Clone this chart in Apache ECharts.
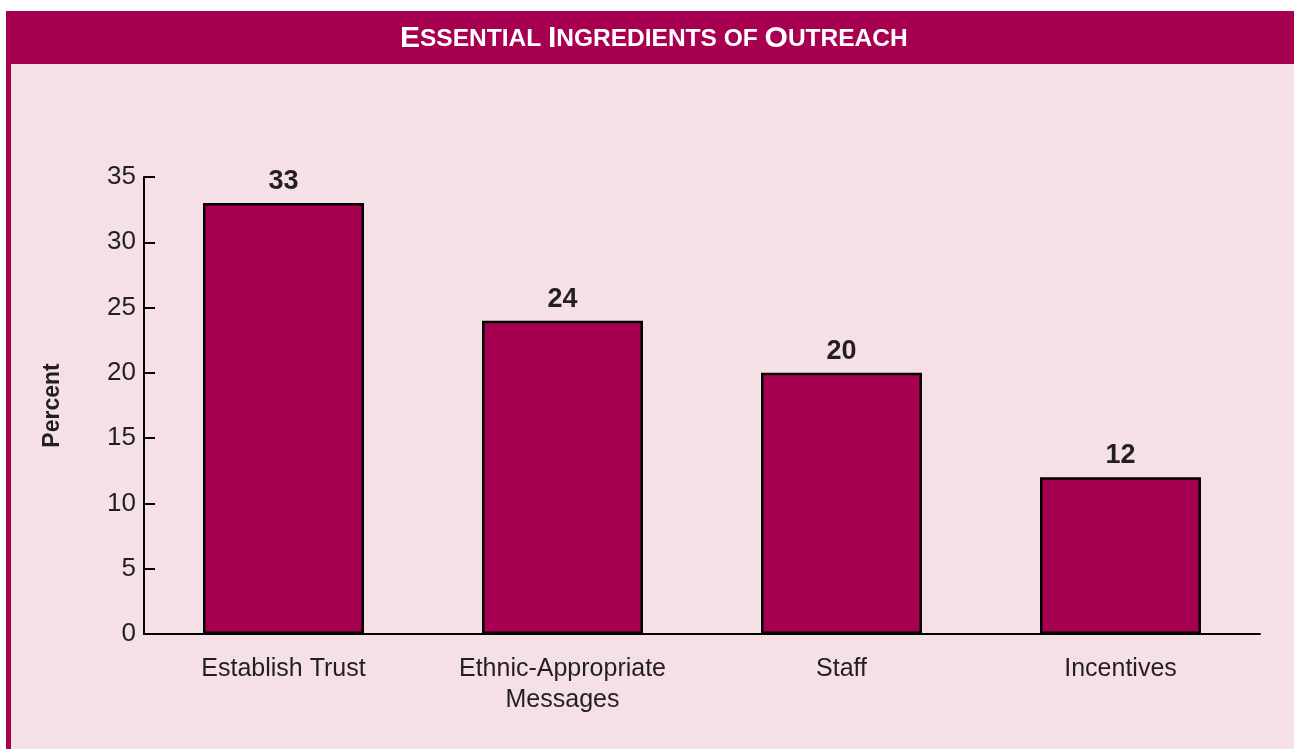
<!DOCTYPE html>
<html>
<head>
<meta charset="utf-8">
<script src="https://cdn.jsdelivr.net/npm/echarts@6/dist/echarts.min.js"></script>
<style>
  html, body { margin: 0; padding: 0; background: #ffffff; }
  #chart { width: 1294px; height: 749px; }
</style>
</head>
<body>
<div id="chart"></div>
<script>
// Survey results: share of respondents naming each ingredient
const categories = ['Establish Trust', 'Ethnic-Appropriate\nMessages', 'Staff', 'Incentives'];
const percentValues = [33, 24, 20, 12];
const yTicks = [0, 5, 10, 15, 20, 25, 30, 35];

const MAGENTA = '#a80050';
const PINK = '#f4e0e5';
const INK = '#231f20';
const FONT = '"Liberation Sans", Arial, Helvetica, sans-serif';

const chart = echarts.init(document.getElementById('chart'), null, { renderer: 'canvas' });

chart.setOption({
  backgroundColor: '#ffffff',
  animation: false,
  graphic: [
    { type: 'rect', z: -10, shape: { x: 6, y: 11, width: 1288, height: 738 }, style: { fill: MAGENTA } },
    { type: 'rect', z: -9, shape: { x: 11, y: 64, width: 1283, height: 685 }, style: { fill: PINK } },
    {
      type: 'text', z: 10, left: 400, top: 24,
      style: {
        text: '{b|E}{s|SSENTIAL }{b|I}{s|NGREDIENTS OF }{b|O}{s|UTREACH}',
        rich: {
          b: { fontFamily: FONT, fontWeight: 'bold', fontSize: 30, fill: '#ffffff' },
          s: { fontFamily: FONT, fontWeight: 'bold', fontSize: 24.5, fill: '#ffffff' }
        }
      }
    }
  ],
  grid: { left: 144, right: 34, top: 177, bottom: 115, containLabel: false },
  xAxis: {
    type: 'category',
    data: categories,
    axisLine: { lineStyle: { color: '#000000', width: 2 } },
    axisTick: { show: false },
    axisLabel: {
      margin: 20, fontFamily: FONT, fontSize: 25, color: INK, lineHeight: 31, interval: 0
    }
  },
  yAxis: {
    type: 'value',
    min: 0, max: 35, interval: 5,
    name: 'Percent',
    nameLocation: 'middle',
    nameRotate: 90,
    nameGap: 80,
    nameTextStyle: { fontFamily: FONT, fontWeight: 'bold', fontSize: 23, color: INK },
    splitLine: { show: false },
    axisLine: { show: true, lineStyle: { color: '#000000', width: 2 } },
    axisTick: { show: true, inside: true, length: 11, lineStyle: { color: '#000000', width: 2 } },
    axisLabel: {
      margin: 8, fontFamily: FONT, fontSize: 26, color: INK,
      formatter: v => (yTicks.includes(v) ? String(v) : '')
    }
  },
  series: [{
    type: 'bar',
    data: percentValues,
    barWidth: '57.7%',
    itemStyle: { color: MAGENTA, borderColor: '#000000', borderWidth: 2.5 },
    label: {
      show: true, position: 'top', distance: 8,
      fontFamily: FONT, fontWeight: 900, fontSize: 27, color: INK
    }
  }]
});
</script>
</body>
</html>
